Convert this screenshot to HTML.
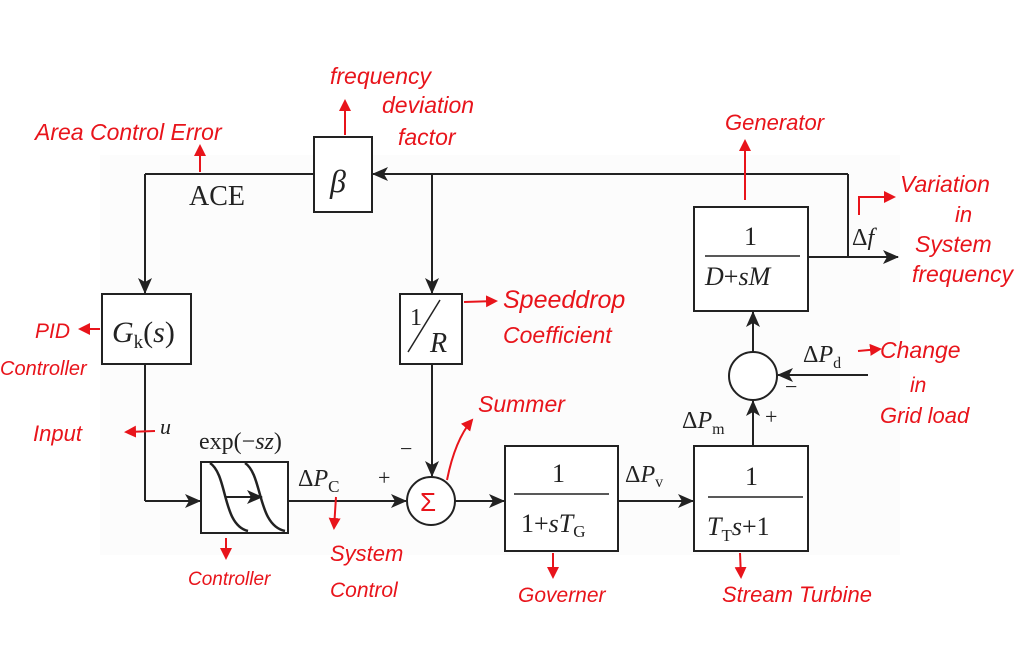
<!DOCTYPE html>
<html><head><meta charset="utf-8"><style>
html,body{margin:0;padding:0;background:#fff;}
svg{display:block}
.k{font-family:"Liberation Serif",serif;fill:#222;}
.r{font-family:"Liberation Sans",sans-serif;fill:#e8141b;font-style:italic;}
</style></head><body>
<svg width="1036" height="645" viewBox="0 0 1036 645" xmlns="http://www.w3.org/2000/svg">
<defs>
<marker id="a" markerWidth="16" markerHeight="14" refX="15" refY="7" orient="auto" markerUnits="userSpaceOnUse"><path d="M0,0 L16,7 L0,14 L4,7z" fill="#222"/></marker>
<marker id="ra" markerWidth="12" markerHeight="12" refX="10" refY="6" orient="auto" markerUnits="userSpaceOnUse"><path d="M0,0 L12,6 L0,12z" fill="#e8141b"/></marker>
</defs>
<rect x="100" y="155" width="800" height="400" fill="#fcfcfc"/>
<g stroke="#222" stroke-width="2" fill="none">
<line x1="848" y1="174" x2="373" y2="174" marker-end="url(#a)"/>
<line x1="848" y1="174" x2="848" y2="257"/>
<line x1="314" y1="174" x2="145" y2="174"/>
<line x1="145" y1="174" x2="145" y2="293" marker-end="url(#a)"/>
<line x1="432" y1="174" x2="432" y2="293" marker-end="url(#a)"/>
<rect x="314" y="137" width="58" height="75" fill="#fff"/>
<rect x="102" y="294" width="89" height="70" fill="#fff"/>
<rect x="400" y="294" width="62" height="70" fill="#fff"/>
<line x1="145" y1="364" x2="145" y2="501"/>
<line x1="145" y1="501" x2="200" y2="501" marker-end="url(#a)"/>
<rect x="201" y="462" width="87" height="71" fill="#fff"/>
<line x1="288" y1="501" x2="406" y2="501" marker-end="url(#a)"/>
<line x1="432" y1="364" x2="432" y2="476" marker-end="url(#a)"/>
<circle cx="431" cy="501" r="24" fill="#fff"/>
<line x1="455" y1="501" x2="504" y2="501" marker-end="url(#a)"/>
<rect x="505" y="446" width="113" height="105" fill="#fff"/>
<line x1="618" y1="501" x2="693" y2="501" marker-end="url(#a)"/>
<rect x="694" y="446" width="114" height="105" fill="#fff"/>
<line x1="753" y1="446" x2="753" y2="401" marker-end="url(#a)"/>
<circle cx="753" cy="376" r="24" fill="#fff"/>
<line x1="868" y1="375" x2="778" y2="375" marker-end="url(#a)"/>
<line x1="753" y1="352" x2="753" y2="312" marker-end="url(#a)"/>
<rect x="694" y="207" width="114" height="104" fill="#fff"/>
<line x1="808" y1="257" x2="898" y2="257" marker-end="url(#a)"/>
<line x1="514" y1="494" x2="609" y2="494" stroke-width="1.5"/>
<line x1="708" y1="497" x2="803" y2="497" stroke-width="1.5"/>
<line x1="705" y1="256" x2="800" y2="256" stroke-width="1.5"/>
<line x1="408" y1="352" x2="440" y2="300" stroke-width="1.5"/>
<path d="M210,463 C228,475 222,525 248,531" stroke-width="2.5"/>
<path d="M245,463 C263,475 257,525 285,531" stroke-width="2.5"/>
<line x1="226" y1="497" x2="262" y2="497" marker-end="url(#a)"/>
</g>
<g class="k">
<text x="330" y="192" font-size="32" font-style="italic">β</text>
<text x="189" y="205" font-size="28">ACE</text>
<text x="112" y="342" font-size="30"><tspan font-style="italic">G</tspan><tspan font-size="19" dy="6">k</tspan><tspan dy="-6">(</tspan><tspan font-style="italic">s</tspan>)</text>
<text x="410" y="325" font-size="24">1</text>
<text x="430" y="352" font-size="28" font-style="italic">R</text>
<text x="160" y="434" font-size="22" font-style="italic">u</text>
<text x="199" y="449" font-size="24">exp(−<tspan font-style="italic">sz</tspan>)</text>
<text x="298" y="486" font-size="24">Δ<tspan font-style="italic">P</tspan><tspan font-size="17" dy="6">C</tspan></text>
<text x="378" y="485" font-size="22">+</text>
<text x="400" y="456" font-size="22">−</text>
<text x="552" y="482" font-size="26">1</text>
<text x="521" y="532" font-size="26">1+<tspan font-style="italic">sT</tspan><tspan font-size="17" dy="5">G</tspan></text>
<text x="625" y="482" font-size="24">Δ<tspan font-style="italic">P</tspan><tspan font-size="16" dy="5">v</tspan></text>
<text x="745" y="485" font-size="26">1</text>
<text x="707" y="535" font-size="26"><tspan font-style="italic">T</tspan><tspan font-size="17" dy="6">T</tspan><tspan dy="-6" font-style="italic">s</tspan>+1</text>
<text x="682" y="428" font-size="24">Δ<tspan font-style="italic">P</tspan><tspan font-size="16" dy="6">m</tspan></text>
<text x="765" y="424" font-size="22">+</text>
<text x="785" y="394" font-size="22">−</text>
<text x="803" y="362" font-size="24">Δ<tspan font-style="italic">P</tspan><tspan font-size="16" dy="6">d</tspan></text>
<text x="744" y="245" font-size="26">1</text>
<text x="705" y="285" font-size="26" font-style="italic">D<tspan font-style="normal">+</tspan>sM</text>
<text x="852" y="245" font-size="24">Δ<tspan font-style="italic">f</tspan></text>
</g>
<text x="420" y="511" font-size="26" fill="#e8141b" font-family="Liberation Sans,sans-serif">Σ</text>
<g stroke="#e8141b" stroke-width="2" fill="none">
<line x1="345" y1="135" x2="345" y2="101" marker-end="url(#ra)"/>
<line x1="200" y1="172" x2="200" y2="146" marker-end="url(#ra)"/>
<line x1="745" y1="200" x2="745" y2="141" marker-end="url(#ra)"/>
<polyline points="859,215 859,197 894,197" marker-end="url(#ra)"/>
<line x1="464" y1="302" x2="496" y2="301" marker-end="url(#ra)"/>
<line x1="100" y1="329" x2="80" y2="329" marker-end="url(#ra)"/>
<line x1="155" y1="431" x2="126" y2="432" marker-end="url(#ra)"/>
<path d="M447,480 Q455,440 472,420" marker-end="url(#ra)"/>
<line x1="858" y1="351" x2="880" y2="349" marker-end="url(#ra)"/>
<line x1="226" y1="538" x2="226" y2="558" marker-end="url(#ra)"/>
<line x1="336" y1="497" x2="334" y2="528" marker-end="url(#ra)"/>
<line x1="553" y1="553" x2="553" y2="577" marker-end="url(#ra)"/>
<line x1="740" y1="553" x2="741" y2="577" marker-end="url(#ra)"/>
</g>
<g class="r">
<text x="330" y="84" font-size="23">frequency</text>
<text x="382" y="113" font-size="23">deviation</text>
<text x="398" y="145" font-size="23">factor</text>
<text x="35" y="140" font-size="23">Area Control Error</text>
<text x="725" y="130" font-size="22">Generator</text>
<text x="900" y="192" font-size="23">Variation</text>
<text x="955" y="222" font-size="22">in</text>
<text x="915" y="252" font-size="23">System</text>
<text x="912" y="282" font-size="23">frequency</text>
<text x="503" y="308" font-size="25">Speeddrop</text>
<text x="503" y="343" font-size="23">Coefficient</text>
<text x="35" y="338" font-size="21">PID</text>
<text x="0" y="375" font-size="20">Controller</text>
<text x="33" y="441" font-size="22">Input</text>
<text x="478" y="412" font-size="23">Summer</text>
<text x="880" y="358" font-size="23">Change</text>
<text x="910" y="392" font-size="21">in</text>
<text x="880" y="423" font-size="22">Grid load</text>
<text x="188" y="585" font-size="19">Controller</text>
<text x="330" y="561" font-size="22">System</text>
<text x="330" y="597" font-size="21">Control</text>
<text x="518" y="602" font-size="21">Governer</text>
<text x="722" y="602" font-size="22">Stream Turbine</text>
</g>
</svg>
</body></html>
